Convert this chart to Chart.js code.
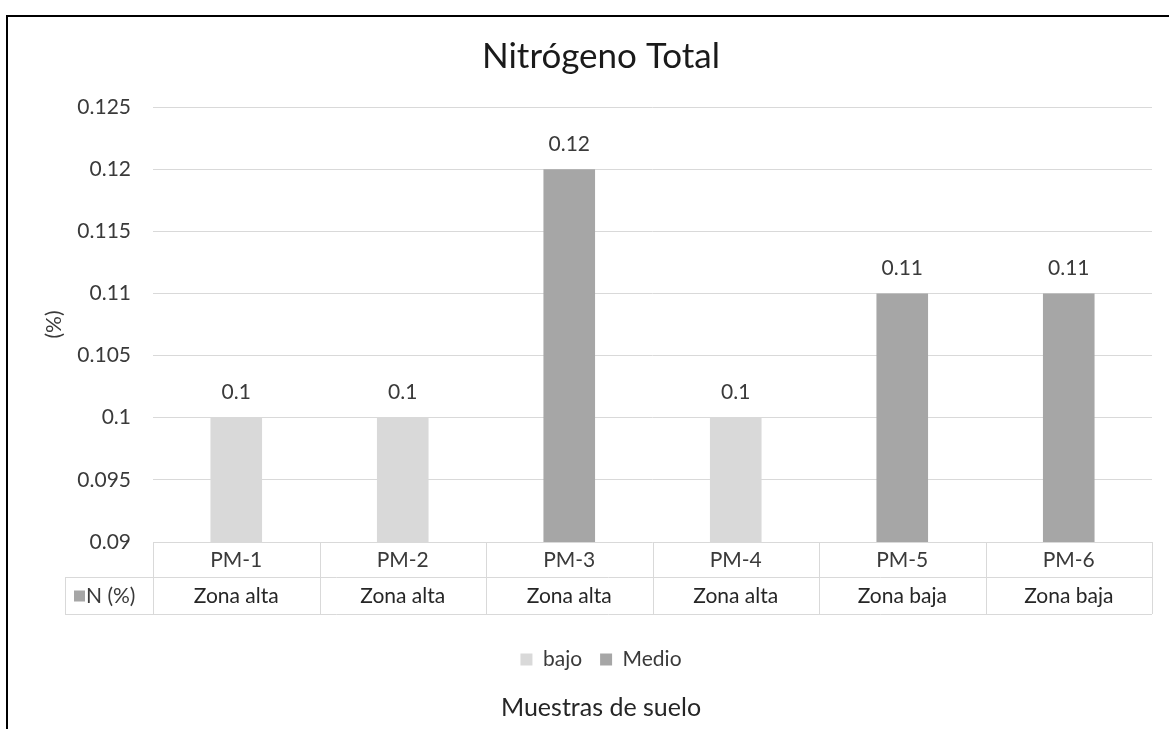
<!DOCTYPE html>
<html>
<head>
<meta charset="utf-8">
<script src="https://cdn.jsdelivr.net/npm/chart.js@4/dist/chart.umd.min.js"></script>
<style>
  html, body { margin: 0; padding: 0; background: #fff; }
  #wrap { position: relative; width: 1169px; height: 729px; overflow: hidden; }
  #frame { position: absolute; left: 6px; top: 15px; right: -10px; bottom: -10px;
           border-top: 2px solid #000; border-left: 2px solid #000; pointer-events: none; }
  canvas { position: absolute; left: 0; top: 0; }
</style>
</head>
<body>
<div id="wrap">
  <canvas id="c" width="1169" height="729"></canvas>
  <div id="frame"></div>
</div>
<script>
// Soil samples and total nitrogen content (%)
const muestras = ['PM-1', 'PM-2', 'PM-3', 'PM-4', 'PM-5', 'PM-6'];
const zonas = ['Zona alta', 'Zona alta', 'Zona alta', 'Zona alta', 'Zona baja', 'Zona baja'];
const nivelBajo = [0.1, 0.1, null, 0.1, null, null];
const nivelMedio = [null, null, 0.12, null, 0.11, 0.11];
const yTickLabels = ['0.09', '0.095', '0.1', '0.105', '0.11', '0.115', '0.12', '0.125'];
const serieTabla = 'N (%)';

const COLOR_BAJO = '#d9d9d9';
const COLOR_MEDIO = '#a6a6a6';
const FONT = 'Lato, "Open Sans", sans-serif';
const TEXT = '#3a3a3a';
const GRID = '#d9d9d9';
const PLOT_LEFT = 153;   // left edge of the plotting area
const PAD_LEFT = 50;

// Value labels above each bar
const valueLabels = {
  id: 'valueLabels',
  afterDatasetsDraw(chart) {
    const ctx = chart.ctx;
    ctx.save();
    ctx.font = '21px ' + FONT;
    ctx.fillStyle = TEXT;
    ctx.textAlign = 'center';
    ctx.textBaseline = 'middle';
    chart.data.datasets.forEach((ds, di) => {
      const meta = chart.getDatasetMeta(di);
      meta.data.forEach((bar, i) => {
        const v = ds.data[i];
        if (v === null || v === undefined) return;
        ctx.fillText(String(v), bar.x, bar.y - 25);
      });
    });
    ctx.restore();
  }
};

// Data table under the plot: sample names and zones
const dataTable = {
  id: 'dataTable',
  afterDraw(chart) {
    const ctx = chart.ctx;
    const x = chart.scales.x;
    const area = chart.chartArea;
    const top = area.bottom;
    const mid = top + 35;
    const bot = top + 72;
    const keyLeft = 65;
    const n = muestras.length;
    const step = (area.right - area.left) / n;
    ctx.save();
    ctx.strokeStyle = GRID;
    ctx.lineWidth = 1;
    ctx.beginPath();
    // horizontal rules
    ctx.moveTo(keyLeft, mid + 0.5); ctx.lineTo(area.right, mid + 0.5);
    ctx.moveTo(keyLeft, bot + 0.5); ctx.lineTo(area.right, bot + 0.5);
    // vertical separators
    for (let i = 0; i <= n; i++) {
      const px = Math.round(area.left + i * step) + 0.5;
      ctx.moveTo(px, top); ctx.lineTo(px, bot);
    }
    ctx.moveTo(keyLeft + 0.5, mid); ctx.lineTo(keyLeft + 0.5, bot);
    ctx.stroke();

    ctx.textAlign = 'center';
    ctx.textBaseline = 'middle';
    ctx.font = '21px ' + FONT;
    muestras.forEach((m, i) => {
      const cx = x.getPixelForValue(i);
      ctx.fillStyle = TEXT;
      ctx.fillText(m, cx, (top + mid) / 2 + 1);
      ctx.fillStyle = '#262626';
      ctx.fillText(zonas[i], cx, (mid + bot) / 2 + 1);
    });

    // series key in the table
    ctx.fillStyle = COLOR_MEDIO;
    ctx.fillRect(keyLeft + 9, (mid + bot) / 2 - 5, 11, 11);
    ctx.fillStyle = TEXT;
    ctx.textAlign = 'left';
    ctx.fillText(serieTabla, keyLeft + 21, (mid + bot) / 2 + 1);
    ctx.restore();
  }
};

new Chart(document.getElementById('c'), {
  type: 'bar',
  data: {
    labels: muestras,
    datasets: [
      { label: 'bajo', data: nivelBajo, backgroundColor: COLOR_BAJO, skipNull: true },
      { label: 'Medio', data: nivelMedio, backgroundColor: COLOR_MEDIO, skipNull: true }
    ]
  },
  options: {
    responsive: false,
    devicePixelRatio: 1,
    animation: false,
    layout: { padding: { top: 20, left: PAD_LEFT, right: 17, bottom: 0 } },
    datasets: { bar: { categoryPercentage: 1, barPercentage: 0.31, skipNull: true } },
    scales: {
      x: {
        ticks: { display: false },
        grid: { display: false, drawTicks: false },
        border: { display: false },
        afterFit(scale) { scale.height = 89; }
      },
      y: {
        min: 0.09,
        max: 0.125,
        ticks: {
          stepSize: 0.005,
          padding: 22,
          color: TEXT,
          font: { family: FONT, size: 21 },
          callback: (v, i) => yTickLabels[i]
        },
        grid: { color: GRID, lineWidth: 1, drawTicks: false },
        border: { display: false },
        title: {
          display: true,
          text: '(%)',
          color: TEXT,
          font: { family: FONT, size: 21 },
          padding: { top: -8.6, bottom: 0 }
        },
        afterFit(scale) { scale.width = PLOT_LEFT - PAD_LEFT; }
      }
    },
    plugins: {
      title: {
        display: true,
        text: 'Nitrógeno Total',
        color: '#1a1a1a',
        font: { family: FONT, size: 35, weight: 'normal' },
        padding: { top: 16, bottom: 29 }
      },
      subtitle: {
        display: true,
        position: 'bottom',
        text: 'Muestras de suelo',
        color: '#262626',
        font: { family: FONT, size: 25, weight: 'normal' },
        padding: { top: 13, bottom: 6 }
      },
      legend: {
        display: true,
        position: 'bottom',
        labels: {
          color: TEXT,
          font: { family: FONT, size: 21 },
          boxWidth: 12,
          boxHeight: 12,
          padding: 18
        }
      },
      tooltip: { enabled: false }
    }
  },
  plugins: [valueLabels, dataTable]
});
</script>
</body>
</html>
